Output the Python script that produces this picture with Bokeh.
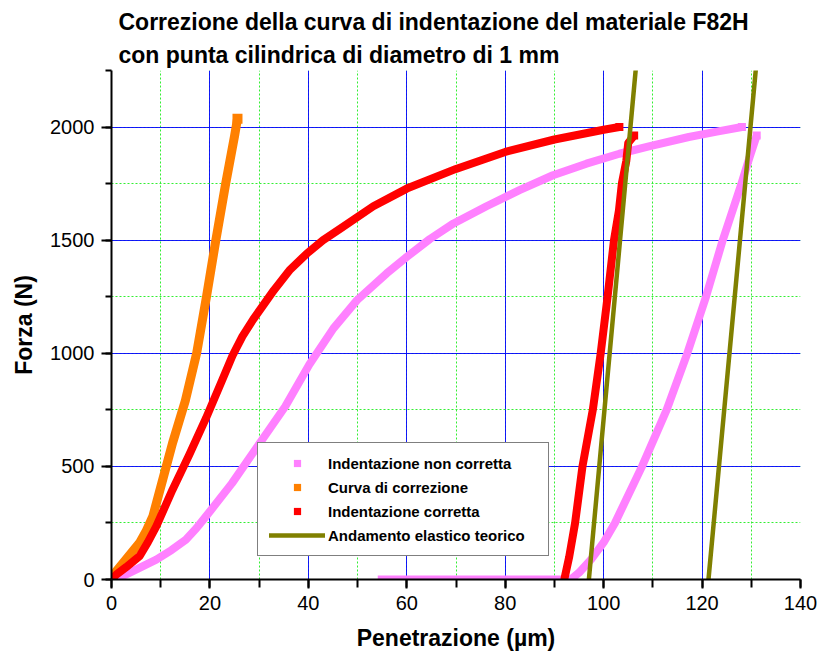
from bokeh.plotting import figure
from bokeh.models import Range1d, SingleIntervalTicker, Legend, LegendItem
from bokeh.embed import file_html
from bokeh.resources import INLINE

# ---- data (penetration in micrometres, force in N) ----
pink_load_x = [0, 3.0, 6.0, 9.1, 12.2, 15.1, 17.2, 19.2, 24.5, 29.9, 35.3, 40.2, 45.1, 49.9, 55.9,
               60.0, 64.7, 69.5, 76.2, 82.9, 89.7, 96.5, 103.2, 109.2, 117.3, 123.0, 128.1]
pink_load_f = [0, 22, 55, 88, 130, 176, 225, 279, 426, 596, 765, 950, 1110, 1235, 1353,
               1426, 1505, 1574, 1650, 1721, 1787, 1838, 1882, 1915, 1956, 1980, 2000]
pink_unload_x = [131.1, 129.7, 128.0, 126.1, 124.2, 120.8, 117.0, 112.8, 107.8, 102.3, 100.0,
                 97.5, 95.0, 93.3, 54.1]
pink_unload_f = [1963, 1870, 1750, 1625, 1500, 1250, 1000, 750, 500, 250, 164, 90, 30, 0, 0]

orange_x = [0, 1.0, 3.0, 5.7, 7.0, 8.4, 10.4, 12.4, 15.0, 17.3, 19.3, 21.2, 23.2, 25.0, 25.6]
orange_f = [0, 37, 90, 162, 212, 279, 441, 603, 790, 1000, 1250, 1500, 1750, 1960, 2037]

red_load_x = [0, 1.0, 3.0, 5.7, 7.4, 9.1, 12.4, 15.8, 19.2, 22.5, 24.6, 26.6, 28.8, 33.0, 36.3,
              39.7, 43.0, 46.5, 53.2, 60.0, 70.0, 80.0, 90.0, 100.0, 103.2]
red_load_f = [0, 22, 55, 103, 165, 235, 397, 551, 713, 882, 990, 1075, 1150, 1279, 1370,
              1441, 1500, 1551, 1650, 1728, 1815, 1890, 1945, 1988, 2000]
red_unload_x = [106.2, 105.0, 104.6, 103.7, 103.1, 102.1, 100.8, 99.4, 97.8, 95.7, 94.2, 93.0, 92.0]
red_unload_f = [1963, 1930, 1850, 1750, 1630, 1500, 1250, 1000, 750, 500, 250, 100, 0]

elastic1_x = [97.0, 106.5]
elastic1_f = [0, 2250]
elastic2_x = [121.3, 130.9]
elastic2_f = [0, 2250]

labels = ["Indentazione non corretta", "Curva di correzione",
          "Indentazione corretta", "Andamento elastico teorico"]
title_text = ("Correzione della curva di indentazione del materiale F82H\n"
              "con punta cilindrica di diametro di 1 mm")

FONT = "Liberation Sans"
PINK, ORANGE, RED, OLIVE = "#ff80ff", "#ff8000", "#ff0000", "#808000"

p = figure(width=822, height=663, output_backend="svg", toolbar_location=None,
           x_range=Range1d(0, 140), y_range=Range1d(0, 2250),
           min_border_left=111, min_border_right=22, min_border_top=70, min_border_bottom=84,
           title=title_text)
p.outline_line_color = None
p.background_fill_color = "white"
p.border_fill_color = "white"

p.title.text_font = FONT
p.title.text_font_size = "23px"
p.title.text_font_style = "bold"
p.title.text_color = "black"
p.title.align = "left"
p.title.offset = 7
p.title.standoff = 6
p.title.text_line_height = 1.25

xt = SingleIntervalTicker(interval=20, num_minor_ticks=2)
yt = SingleIntervalTicker(interval=500, num_minor_ticks=2)
p.xaxis.ticker = xt
p.yaxis.ticker = yt
p.xgrid.ticker = xt
p.ygrid.ticker = yt
p.ygrid.bounds = (0, 2100)

for g in (p.xgrid, p.ygrid):
    g.grid_line_color = "#0000ff"
    g.grid_line_width = 1
    g.grid_line_alpha = 0.9
    g.minor_grid_line_color = "#33ee33"
    g.minor_grid_line_dash = "2 2"
    g.minor_grid_line_width = 1

for ax in (p.xaxis[0], p.yaxis[0]):
    ax.axis_line_width = 2
    ax.axis_line_color = "black"
    ax.major_tick_line_width = 2
    ax.minor_tick_line_width = 2
    ax.major_tick_line_color = "black"
    ax.minor_tick_line_color = "black"
    ax.major_tick_in = 0
    ax.minor_tick_in = 0
    ax.major_label_text_font = FONT
    ax.major_label_text_font_size = "20px"
    ax.major_label_text_color = "black"
    ax.axis_label_text_font = FONT
    ax.axis_label_text_font_size = "23px"
    ax.axis_label_text_font_style = "bold"
    ax.axis_label_text_color = "black"

p.xaxis.major_tick_out = 9
p.xaxis.minor_tick_out = 8
p.yaxis.major_tick_out = 10
p.yaxis.minor_tick_out = 6
p.xaxis.major_label_standoff = 7
p.yaxis.major_label_standoff = 7
p.xaxis.axis_label = "Penetrazione (µm)"
p.yaxis.axis_label = "Forza (N)"
p.xaxis.axis_label_standoff = 12
p.yaxis.axis_label_standoff = 10

LW = 8

# pink: uncorrected indentation
p.line(pink_load_x, pink_load_f, line_color=PINK, line_width=LW, line_join="round")
p.line(pink_unload_x, pink_unload_f, line_color=PINK, line_width=LW, line_join="round")
pk = p.scatter([pink_load_x[-1], pink_unload_x[0]], [pink_load_f[-1], pink_unload_f[0]],
               marker="square", size=LW, fill_color=PINK, line_color=None)

# orange: correction curve
p.line(orange_x, orange_f, line_color=ORANGE, line_width=LW + 1, line_join="round")
og = p.scatter([orange_x[-1]], [orange_f[-1]], marker="square", size=LW + 2,
               fill_color=ORANGE, line_color=None)

# red: corrected indentation
p.line(red_load_x, red_load_f, line_color=RED, line_width=LW, line_join="round")
p.line(red_unload_x, red_unload_f, line_color=RED, line_width=LW, line_join="round")
rd = p.scatter([red_load_x[-1], red_unload_x[0]], [red_load_f[-1], red_unload_f[0]],
               marker="square", size=LW, fill_color=RED, line_color=None)

# olive: theoretical elastic behaviour
el = p.line(elastic1_x, elastic1_f, line_color=OLIVE, line_width=4.5, line_cap="round")
p.line(elastic2_x, elastic2_f, line_color=OLIVE, line_width=4.5, line_cap="round")

legend = Legend(items=[LegendItem(label=labels[0], renderers=[pk]),
                       LegendItem(label=labels[1], renderers=[og]),
                       LegendItem(label=labels[2], renderers=[rd]),
                       LegendItem(label=labels[3], renderers=[el])],
                location=(146, 23), padding=11, spacing=6, margin=0,
                glyph_height=18, glyph_width=56, label_height=18, label_width=209,
                label_standoff=3,
                label_text_font=FONT, label_text_font_size="15px",
                label_text_font_style="bold", label_text_color="black",
                border_line_color="black", border_line_width=1.5,
                background_fill_color="white", background_fill_alpha=1.0)
p.add_layout(legend, "center")

open("out.html", "w").write(file_html(p, INLINE))
